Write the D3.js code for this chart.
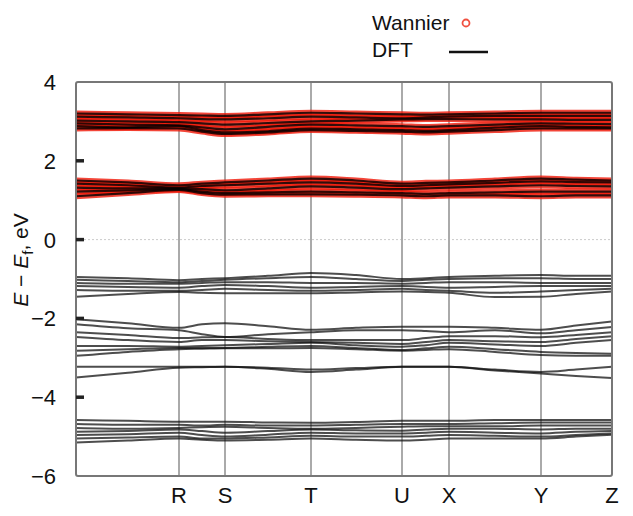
<!DOCTYPE html>
<meta charset="utf-8">
<style>
body { margin: 0; background: #fff; }
svg text { font-family: "Liberation Sans", Arial, sans-serif; fill: #111; }
</style>
<svg width="633" height="516"></svg>
<script src="https://d3js.org/d3.v7.min.js"></script>
<script>
// k-path: high symmetry points and the grid the bands are read on
var kLabels = ["", "R", "S", "T", "U", "X", "Y", "Z"];
var kTicks = [0, 1.03, 1.49, 2.35, 3.26, 3.73, 4.65, 5.36];
var kGrid = [0, 0.52, 1.03, 1.26, 1.49, 1.92, 2.35, 2.80, 3.26, 3.50, 3.73, 4.19, 4.65, 5.00, 5.36];
var yTicks = [4, 2, 0, -2, -4, -6];

// conduction bands (DFT + Wannier)
var condUpper = [
  [3.20, 3.18, 3.16, 3.15, 3.14, 3.18, 3.22, 3.20, 3.18, 3.17, 3.18, 3.20, 3.22, 3.22, 3.22],
  [3.12, 3.10, 3.08, 3.06, 3.05, 3.08, 3.12, 3.10, 3.08, 3.10, 3.12, 3.14, 3.14, 3.14, 3.14],
  [3.02, 3.00, 2.98, 2.95, 2.92, 2.96, 3.00, 3.02, 3.05, 3.06, 3.06, 3.05, 3.05, 3.04, 3.04],
  [2.95, 2.92, 2.90, 2.85, 2.80, 2.86, 2.92, 2.90, 2.88, 2.86, 2.88, 2.92, 2.95, 2.94, 2.93],
  [2.88, 2.85, 2.88, 2.78, 2.72, 2.75, 2.82, 2.80, 2.78, 2.76, 2.78, 2.84, 2.88, 2.86, 2.85],
  [2.82, 2.83, 2.82, 2.74, 2.68, 2.72, 2.78, 2.76, 2.74, 2.72, 2.74, 2.78, 2.82, 2.82, 2.82]
];
var condLower = [
  [1.50, 1.45, 1.38, 1.42, 1.45, 1.50, 1.55, 1.50, 1.42, 1.44, 1.45, 1.50, 1.55, 1.52, 1.50],
  [1.42, 1.38, 1.32, 1.36, 1.38, 1.42, 1.45, 1.42, 1.36, 1.38, 1.40, 1.44, 1.48, 1.46, 1.45],
  [1.32, 1.30, 1.30, 1.28, 1.25, 1.30, 1.35, 1.32, 1.28, 1.30, 1.32, 1.35, 1.38, 1.36, 1.35],
  [1.22, 1.25, 1.28, 1.22, 1.18, 1.20, 1.22, 1.20, 1.18, 1.16, 1.18, 1.20, 1.22, 1.22, 1.22],
  [1.10, 1.18, 1.26, 1.18, 1.14, 1.15, 1.15, 1.14, 1.12, 1.10, 1.12, 1.12, 1.10, 1.12, 1.12]
];
// valence bands (DFT only)
var valTop = [
  [-0.95, -0.98, -1.03, -1.00, -0.98, -0.92, -0.85, -0.90, -1.00, -0.98, -0.95, -0.92, -0.90, -0.92, -0.92],
  [-1.02, -1.05, -1.08, -1.05, -1.02, -0.98, -0.95, -1.00, -1.05, -1.02, -1.00, -0.98, -0.98, -1.00, -1.00],
  [-1.10, -1.12, -1.12, -1.10, -1.08, -1.08, -1.10, -1.10, -1.12, -1.10, -1.08, -1.08, -1.10, -1.10, -1.10],
  [-1.18, -1.20, -1.22, -1.18, -1.15, -1.18, -1.22, -1.20, -1.18, -1.20, -1.22, -1.20, -1.18, -1.18, -1.18],
  [-1.28, -1.30, -1.30, -1.28, -1.25, -1.28, -1.30, -1.28, -1.25, -1.28, -1.30, -1.35, -1.32, -1.28, -1.25],
  [-1.45, -1.38, -1.33, -1.35, -1.36, -1.36, -1.36, -1.34, -1.32, -1.33, -1.35, -1.46, -1.45, -1.38, -1.32]
];
var valMid = [
  [-2.02, -2.12, -2.24, -2.15, -2.12, -2.20, -2.29, -2.24, -2.21, -2.21, -2.21, -2.24, -2.29, -2.18, -2.08],
  [-2.15, -2.25, -2.30, -2.40, -2.47, -2.40, -2.35, -2.30, -2.30, -2.32, -2.35, -2.30, -2.38, -2.30, -2.22],
  [-2.35, -2.42, -2.50, -2.48, -2.47, -2.52, -2.55, -2.55, -2.55, -2.50, -2.45, -2.45, -2.48, -2.42, -2.35],
  [-2.47, -2.55, -2.60, -2.55, -2.55, -2.58, -2.60, -2.62, -2.65, -2.60, -2.55, -2.58, -2.60, -2.52, -2.45],
  [-2.70, -2.70, -2.72, -2.70, -2.68, -2.65, -2.62, -2.68, -2.72, -2.68, -2.62, -2.66, -2.70, -2.62, -2.55],
  [-2.82, -2.78, -2.75, -2.75, -2.75, -2.72, -2.70, -2.75, -2.80, -2.76, -2.72, -2.78, -2.85, -2.88, -2.90],
  [-2.95, -2.85, -2.78, -2.77, -2.76, -2.76, -2.75, -2.78, -2.82, -2.80, -2.78, -2.85, -2.93, -2.95, -2.95],
  [-3.23, -3.23, -3.23, -3.23, -3.23, -3.28, -3.36, -3.30, -3.23, -3.23, -3.23, -3.30, -3.36, -3.30, -3.23],
  [-3.50, -3.38, -3.25, -3.24, -3.23, -3.25, -3.30, -3.26, -3.23, -3.23, -3.23, -3.32, -3.40, -3.46, -3.51]
];
var valLow = [
  [-4.58, -4.60, -4.62, -4.62, -4.62, -4.64, -4.65, -4.63, -4.60, -4.60, -4.60, -4.58, -4.58, -4.58, -4.58],
  [-4.68, -4.70, -4.70, -4.72, -4.70, -4.72, -4.72, -4.70, -4.68, -4.68, -4.68, -4.66, -4.64, -4.64, -4.64],
  [-4.78, -4.80, -4.78, -4.76, -4.75, -4.78, -4.80, -4.78, -4.75, -4.74, -4.74, -4.74, -4.72, -4.72, -4.72],
  [-4.88, -4.86, -4.82, -4.86, -4.90, -4.86, -4.82, -4.84, -4.85, -4.82, -4.80, -4.80, -4.82, -4.80, -4.80],
  [-4.96, -4.94, -4.90, -4.96, -5.00, -4.95, -4.90, -4.92, -4.92, -4.90, -4.88, -4.90, -4.92, -4.88, -4.86],
  [-5.05, -5.02, -5.00, -5.05, -5.05, -5.02, -4.98, -5.00, -5.00, -4.98, -4.96, -4.98, -5.00, -4.96, -4.92],
  [-5.15, -5.10, -5.05, -5.08, -5.10, -5.08, -5.05, -5.08, -5.10, -5.08, -5.05, -5.05, -5.05, -5.00, -4.95]
];

var svg = d3.select("svg");
var x = d3.scaleLinear().domain([0, 5.36]).range([76, 612]);
var y = d3.scaleLinear().domain([-6, 4]).range([476, 82]);

var line = d3.line()
    .x(function(d, i) { return x(kGrid[i]); })
    .y(function(d) { return y(d); })
    .curve(d3.curveMonotoneX);

var cond = condUpper.concat(condLower);
var val = valTop.concat(valMid, valLow);

// zero line
svg.append("line")
    .attr("x1", x(0)).attr("x2", x(5.36))
    .attr("y1", y(0)).attr("y2", y(0))
    .attr("stroke", "#ccc").attr("stroke-width", 1)
    .attr("stroke-dasharray", "2,2");

// high symmetry lines
svg.append("g").selectAll("line")
    .data(kTicks.slice(1, -1))
    .enter().append("line")
    .attr("x1", function(d) { return x(d); })
    .attr("x2", function(d) { return x(d); })
    .attr("y1", y(4)).attr("y2", y(-6))
    .attr("stroke", "#aaa").attr("stroke-width", 2);

// wannier halo
svg.append("g").selectAll("path")
    .data(cond)
    .enter().append("path")
    .attr("d", line)
    .attr("fill", "none")
    .attr("stroke", "#f01808")
    .attr("stroke-opacity", 0.8)
    .attr("stroke-width", 6);

// DFT lines
svg.append("g").selectAll("path")
    .data(cond)
    .enter().append("path")
    .attr("d", line)
    .attr("fill", "none")
    .attr("stroke", "#000")
    .attr("stroke-opacity", 0.8)
    .attr("stroke-width", 2.2);

svg.append("g").selectAll("path")
    .data(val)
    .enter().append("path")
    .attr("d", line)
    .attr("fill", "none")
    .attr("stroke", "#111")
    .attr("stroke-opacity", 0.75)
    .attr("stroke-width", 2);

// frame
svg.append("rect")
    .attr("x", x(0)).attr("y", y(4))
    .attr("width", x(5.36) - x(0)).attr("height", y(-6) - y(4))
    .attr("rx", 2)
    .attr("fill", "none").attr("stroke", "#777").attr("stroke-width", 2);

// y ticks
svg.append("g").selectAll("line")
    .data(yTicks.slice(1, -1))
    .enter().append("line")
    .attr("x1", x(0)).attr("x2", x(0) + 8)
    .attr("y1", function(d) { return y(d); })
    .attr("y2", function(d) { return y(d); })
    .attr("stroke", "#222").attr("stroke-width", 3.5);

svg.append("g").selectAll("text")
    .data(yTicks)
    .enter().append("text")
    .attr("x", 56)
    .attr("y", function(d) { return y(d) + 8; })
    .attr("text-anchor", "end")
    .attr("font-size", 22)
    .text(function(d) { return d < 0 ? "\u2212" + Math.abs(d) : d; });

// k labels
svg.append("g").selectAll("text")
    .data(kTicks)
    .enter().append("text")
    .attr("x", function(d) { return x(d); })
    .attr("y", 503)
    .attr("text-anchor", "middle")
    .attr("font-size", 22)
    .text(function(d, i) { return kLabels[i]; });

// y axis title
var yt = svg.append("text")
    .attr("transform", "translate(28,260) rotate(-90)")
    .attr("text-anchor", "middle")
    .attr("font-size", 21);
yt.append("tspan").attr("font-style", "italic").text("E");
yt.append("tspan").text(" \u2212 ");
yt.append("tspan").attr("font-style", "italic").text("E");
yt.append("tspan").attr("font-size", 15).attr("dy", 5).text("f");
yt.append("tspan").attr("dy", -5).text(", eV");

// legend
svg.append("text").attr("x", 372).attr("y", 30).attr("font-size", 21).text("Wannier");
svg.append("circle").attr("cx", 466).attr("cy", 23).attr("r", 3.5)
    .attr("fill", "none").attr("stroke", "#f05040").attr("stroke-width", 1.8);
svg.append("text").attr("x", 372).attr("y", 57).attr("font-size", 21).text("DFT");
svg.append("line").attr("x1", 449).attr("x2", 488).attr("y1", 52).attr("y2", 52)
    .attr("stroke", "#111").attr("stroke-width", 2.5);
</script>
